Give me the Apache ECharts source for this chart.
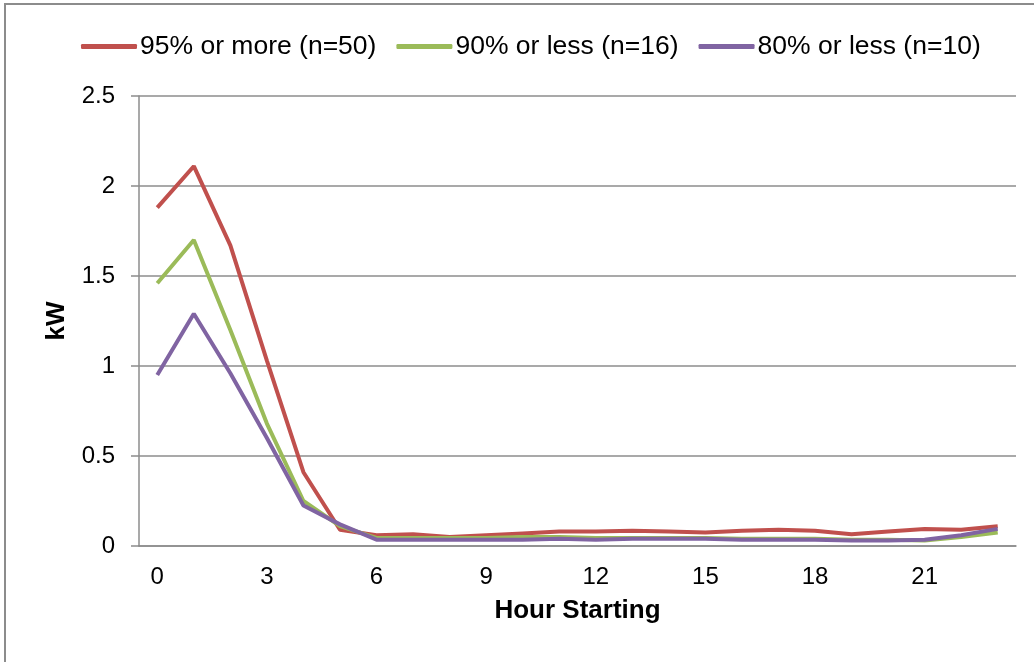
<!DOCTYPE html>
<html>
<head>
<meta charset="utf-8">
<script src="https://cdn.jsdelivr.net/npm/echarts@6/dist/echarts.min.js"></script>
<style>
  html, body { margin: 0; padding: 0; background: #fff; }
  #chart { position: absolute; left: 0; top: 0; width: 1034px; height: 662px; }
  #frame {
    position: absolute; left: 4px; top: 3px; width: 1040px; height: 670px;
    border-left: 2px solid #8c8c8c; border-top: 2px solid #8c8c8c;
    pointer-events: none;
  }
</style>
</head>
<body>
<div id="chart"></div>
<div id="frame"></div>
<script>
const hours = ['0', '1', '2', '3', '4', '5', '6', '7', '8', '9', '10', '11',
  '12', '13', '14', '15', '16', '17', '18', '19', '20', '21', '22', '23']

const seriesNames = ['95% or more (n=50)', '90% or less (n=16)', '80% or less (n=10)']

const high95 = [1.88, 2.11, 1.67, 1.03, 0.41, 0.09, 0.06, 0.065, 0.05, 0.06, 0.07, 0.08,
  0.08, 0.085, 0.08, 0.075, 0.085, 0.09, 0.085, 0.065, 0.08, 0.095, 0.09, 0.11]
const less90 = [1.46, 1.70, 1.20, 0.68, 0.25, 0.11, 0.045, 0.045, 0.045, 0.045, 0.05, 0.05,
  0.045, 0.045, 0.045, 0.045, 0.04, 0.04, 0.04, 0.035, 0.035, 0.03, 0.05, 0.075]
const less80 = [0.95, 1.29, 0.96, 0.60, 0.225, 0.12, 0.035, 0.035, 0.035, 0.035, 0.035, 0.04,
  0.035, 0.04, 0.04, 0.04, 0.035, 0.035, 0.035, 0.03, 0.03, 0.035, 0.06, 0.095]

const colors = ['#C0504D', '#9BBB59', '#8064A2']
const font = '"Liberation Sans", Arial, sans-serif'

const chart = echarts.init(document.getElementById('chart'))

const makeLine = (name, data, color) => ({
  name,
  type: 'line',
  data,
  symbol: 'none',
  smooth: false,
  lineStyle: { color, width: 4 },
  itemStyle: { color },
})

chart.setOption({
  animation: false,
  grid: { left: 139, right: 18, top: 96, bottom: 116 },
  legend: {
    left: 76,
    top: 28,
    icon: 'roundRect',
    itemWidth: 56,
    itemHeight: 5,
    itemGap: 20,
    textStyle: { fontFamily: font, fontSize: 26.5, color: '#000', padding: [0, 0, 0, -2] },
    data: seriesNames,
  },
  xAxis: {
    type: 'category',
    data: hours,
    boundaryGap: true,
    name: 'Hour Starting',
    nameLocation: 'middle',
    nameGap: 52,
    nameTextStyle: { fontFamily: font, fontSize: 26, fontWeight: 'bold', color: '#000' },
    axisLine: { lineStyle: { color: '#8c8c8c', width: 1.5 } },
    axisTick: { interval: 2, length: 7, lineStyle: { color: '#8c8c8c', width: 1.5 } },
    axisLabel: { interval: 2, margin: 19, fontFamily: font, fontSize: 24, color: '#000' },
    splitLine: { show: false },
  },
  yAxis: {
    type: 'value',
    min: 0,
    max: 2.5,
    interval: 0.5,
    name: 'kW',
    nameLocation: 'middle',
    nameGap: 69,
    nameTextStyle: { fontFamily: font, fontSize: 26, fontWeight: 'bold', color: '#000' },
    axisLine: { show: true, lineStyle: { color: '#8c8c8c', width: 1.5 } },
    axisTick: { show: true, length: 8, lineStyle: { color: '#8c8c8c', width: 1.5 } },
    axisLabel: { margin: 24, fontFamily: font, fontSize: 24, color: '#000' },
    splitLine: { lineStyle: { color: '#8c8c8c', width: 1.5 } },
  },
  series: [
    makeLine(seriesNames[0], high95, colors[0]),
    makeLine(seriesNames[1], less90, colors[1]),
    makeLine(seriesNames[2], less80, colors[2]),
  ],
})
</script>
</body>
</html>
